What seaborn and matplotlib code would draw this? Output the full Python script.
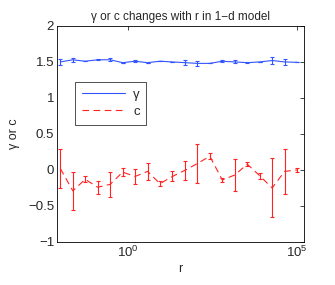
import seaborn as sns
import matplotlib.pyplot as plt
import numpy as np
import pandas as pd

r = np.logspace(-2, 5, 20)
gamma = [1.50, 1.53, 1.51, 1.53, 1.53, 1.49, 1.51, 1.49, 1.51, 1.50,
         1.49, 1.48, 1.48, 1.51, 1.50, 1.49, 1.50, 1.52, 1.50, 1.495]
gamma_err = [0.04, 0.03, 0.0, 0.01, 0.02, 0.0, 0.01, 0.0, 0.0, 0.0,
             0.03, 0.03, 0.0, 0.015, 0.02, 0.01, 0.0, 0.05, 0.04, 0.0]
c = [0.02, -0.29, -0.13, -0.24, -0.20, -0.03, -0.09, -0.02, -0.19, -0.09,
     -0.005, 0.09, 0.19, -0.14, -0.07, 0.08, -0.08, -0.25, -0.02, 0.0]
c_err = [0.27, 0.26, 0.04, 0.09, 0.17, 0.055, 0.10, 0.12, 0.03, 0.07,
         0.13, 0.27, 0.04, 0.03, 0.22, 0.03, 0.04, 0.41, 0.31, 0.03]

blue = '#3355ff'
red = '#ff2222'

sns.set_style('white')
plt.rcParams['font.family'] = ['Liberation Sans', 'DejaVu Sans']

fig = plt.figure(figsize=(3.35, 2.85), dpi=100)
ax = fig.add_axes([0.170, 0.151, 0.737, 0.758])

df = pd.DataFrame({'r': r, 'gamma': gamma, 'c': c})
sns.lineplot(data=df, x='r', y='gamma', ax=ax, color=blue, lw=0.8, label='γ')
sns.lineplot(data=df, x='r', y='c', ax=ax, color=red, lw=0.8, label='c')
ax.lines[-1].set_dashes((6, 4))

ax.errorbar(r, gamma, yerr=gamma_err, fmt='none', ecolor=blue, elinewidth=0.8,
            capsize=1.5, capthick=0.8)
ax.errorbar(r, c, yerr=c_err, fmt='none', ecolor=red, elinewidth=0.8,
            capsize=1.5, capthick=0.8)

ax.set_xscale('log')
ax.set_xlim(10 ** -2.1, 10 ** 5.2)
ax.set_ylim(-1, 2)
ax.set_xticks([1, 1e5])
ax.xaxis.set_minor_locator(plt.NullLocator())
ax.set_yticks([-1, -0.5, 0, 0.5, 1, 1.5, 2])
ax.set_yticklabels(['\u22121', '\u22120.5', '0', '0.5', '1', '1.5', '2'])
ax.tick_params(direction='in', length=3, width=0.6, top=True, right=True,
               labelsize=9.5, pad=2)
for s in ax.spines.values():
    s.set_linewidth(0.6)
    s.set_color('black')

ax.set_title('γ or c changes with r in 1\u2212d model', fontsize=8.5, pad=4)
ax.set_xlabel('r', fontsize=9, labelpad=2)
ax.set_ylabel('γ or c', fontsize=9, labelpad=6)

leg = ax.legend(loc='upper left', bbox_to_anchor=(0.073, 0.742), fontsize=9.5,
                frameon=True, fancybox=False, edgecolor='black',
                handlelength=3.3, handletextpad=0.6, borderpad=0.5,
                labelspacing=0.4, borderaxespad=0)
leg.get_frame().set_linewidth(0.6)

fig.savefig('out.png', dpi=100)
